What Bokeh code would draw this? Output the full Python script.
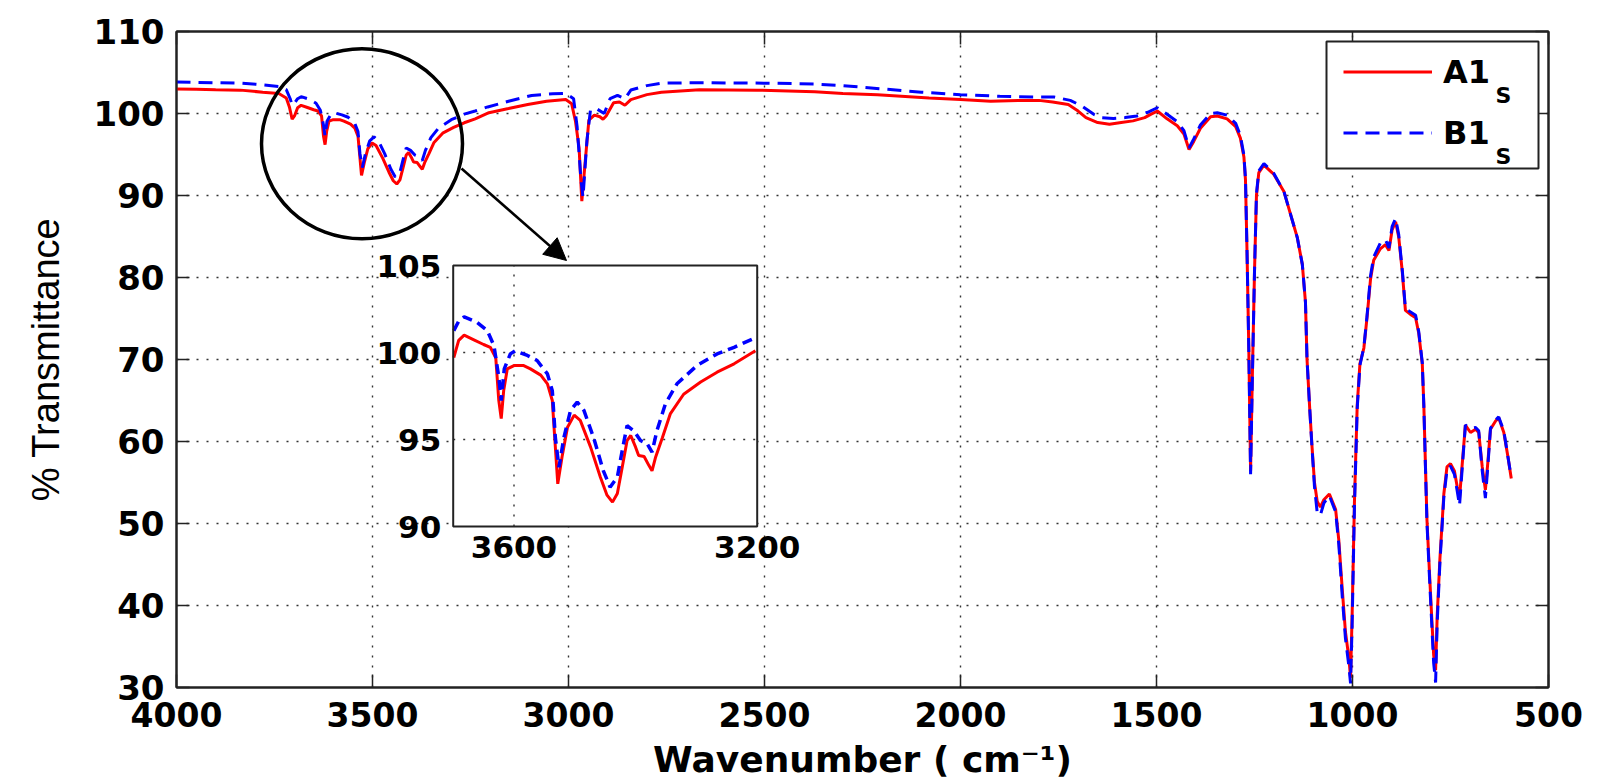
import numpy as np
from bokeh.plotting import figure
from bokeh.models import (Range1d, LinearAxis, FixedTicker, Legend, LegendItem,
                          Label, Arrow, NormalHead, BoxAnnotation)
from bokeh.core.properties import value
from bokeh.embed import file_html
from bokeh.resources import INLINE

# ---------------- data ----------------
wn_a = [4000, 3950, 3900, 3837, 3780, 3739, 3720, 3712, 3705, 3699, 3691, 3682, 3666, 3650,
        3639, 3630, 3625, 3621, 3617, 3611, 3600, 3584, 3573, 3556, 3545, 3537, 3533, 3528,
        3521, 3512, 3501, 3491, 3474, 3458, 3447, 3438, 3430, 3422, 3414, 3408, 3400, 3395,
        3386, 3378, 3373, 3367, 3356, 3343, 3321, 3293, 3266, 3238, 3203, 3153, 3104, 3056,
        3007, 2992, 2982, 2973, 2966, 2958, 2948, 2934, 2920, 2912, 2904, 2885, 2870, 2856,
        2841, 2800, 2763, 2666, 2519, 2372, 2300, 2212, 2080, 2000, 1923, 1850, 1800, 1765,
        1725, 1700, 1680, 1650, 1620, 1590, 1560, 1530, 1515, 1498, 1473, 1447, 1430, 1417,
        1405, 1388, 1362, 1345, 1320, 1298, 1286, 1277, 1273, 1269, 1264.5, 1260, 1256, 1250,
        1245, 1239, 1226, 1201, 1175, 1158, 1141, 1128, 1120, 1116, 1109, 1103, 1097, 1090,
        1082, 1073, 1059, 1043, 1035, 1026, 1018, 1009, 1005, 1001, 995, 988, 981, 971, 963,
        954, 946, 929, 916, 907, 899, 890, 882, 873, 865, 852, 839, 831, 822, 818, 814, 810,
        803, 797, 793, 788, 784, 777, 771, 767, 759, 750, 740, 733, 727, 720, 712, 699, 686,
        678, 669, 661, 655, 648, 635, 627, 614, 604, 595]
t_a = [103.0, 102.95, 102.9, 102.85, 102.6, 102.45, 101.9, 100.8, 99.3, 99.7, 100.7, 101.0, 100.73, 100.46,
       100.3, 99.7, 97.24, 96.2, 97.8, 99.06, 99.25, 99.25, 99.06, 98.7, 98.2, 97.24, 95.1, 92.45,
       94.0, 95.7, 96.4, 96.1, 94.56, 92.84, 91.8, 91.4, 91.9, 93.4, 94.94, 95.23, 94.56, 94.08,
       94.02, 93.5, 93.2, 94.0, 95.1, 96.47, 97.6, 98.3, 98.87, 99.35, 100.1, 100.6, 101.1, 101.5,
       101.7, 101.2, 99.0, 95.8, 89.3, 93.8, 99.2, 99.8, 99.6, 99.3, 99.7, 101.3, 101.4, 101.0,
       101.7, 102.3, 102.6, 102.9, 102.85, 102.65, 102.45, 102.3, 101.9, 101.7, 101.5, 101.6, 101.6, 101.4,
       101.1, 100.3, 99.5, 98.9, 98.7, 98.9, 99.1, 99.5, 99.9, 100.3, 99.35, 98.5, 97.5, 95.6,
       96.6, 98.2, 99.6, 99.7, 99.35, 98.4, 97.0, 94.7, 91.9, 83.0, 71.3, 56.4, 66.7, 80.7,
       90.0, 92.8, 93.7, 92.6, 90.5, 87.7, 84.9, 81.6, 77.0, 70.0, 63.9, 59.2, 55.0, 52.7,
       52.0, 52.9, 53.6, 51.7, 48.0, 41.9, 36.8, 33.5, 31.2, 38.7, 52.7, 64.4, 69.5, 71.4, 75.1,
       79.8, 82.1, 83.5, 84.0, 83.3, 85.8, 86.8, 84.9, 80.7, 76.0, 75.5, 75.1, 73.2, 69.5, 64.4, 57.3, 50.4,
       43.4, 37.7, 34.0, 32.1, 38.7, 45.7, 50.4, 53.6, 56.9, 57.3, 56.4, 54.5, 53.1, 57.3, 62.0, 61.1, 61.5,
       61.1, 56.9, 54.1, 57.3, 61.5, 62.5, 62.9, 61.1, 58.3, 55.5]

wn_b = [4000, 3950, 3900, 3837, 3780, 3739, 3720, 3710, 3705, 3699, 3691, 3682, 3661, 3644,
        3633, 3625, 3621, 3616, 3606, 3598, 3578, 3562, 3545, 3537, 3532, 3526, 3518, 3507,
        3496, 3485, 3469, 3453, 3442, 3430, 3422, 3414, 3403, 3392, 3381, 3373, 3365, 3351,
        3332, 3299, 3266, 3238, 3206, 3153, 3094, 3040, 3007, 2987, 2978, 2968, 2963, 2953,
        2944, 2929, 2909, 2894, 2875, 2856, 2841, 2800, 2763, 2666, 2500, 2372, 2300, 2200,
        2100, 2000, 1900, 1800, 1760, 1720, 1690, 1660, 1640, 1610, 1580, 1550, 1520, 1498,
        1473, 1447, 1430, 1417, 1405, 1388, 1362, 1345, 1320, 1298, 1286, 1277, 1273, 1269,
        1264.5, 1260, 1256, 1250, 1245, 1239, 1226, 1201, 1175, 1158, 1141, 1128, 1120, 1116,
        1109, 1103, 1097, 1090, 1082, 1073, 1059, 1043, 1035, 1026, 1018, 1009, 1005, 1001,
        995, 988, 981, 971, 963, 954, 946, 929, 916, 907, 899, 890, 882, 873, 865, 852, 839,
        831, 822, 818, 814, 810, 803, 797, 793, 788, 784, 777, 771, 767, 759, 750, 740, 733,
        727, 720, 712, 699, 686, 678, 669, 661, 655, 648, 635, 627, 614, 604, 595]
t_b = [103.85, 103.8, 103.75, 103.7, 103.5, 103.3, 102.9, 101.8, 101.0, 101.26, 101.8, 102.05, 101.74, 101.26,
       100.4, 98.58, 97.24, 99.06, 99.92, 100.1, 99.83, 99.54, 98.77, 97.8, 95.1, 93.4, 95.1, 96.67,
       97.15, 96.67, 95.1, 93.2, 92.26, 92.84, 94.37, 95.8, 95.5, 94.94, 94.75, 94.27, 95.5, 97.05,
       98.2, 99.25, 99.92, 100.3, 100.8, 101.5, 102.2, 102.4, 102.45, 101.8, 98.4, 91.8, 89.8, 96.7,
       100.4, 100.6, 100.0, 101.8, 102.2, 101.8, 102.86, 103.4, 103.7, 103.75, 103.7, 103.6, 103.4, 103.0,
       102.6, 102.3, 102.1, 102.0, 102.0, 101.6, 100.9, 99.9, 99.5, 99.4, 99.5, 99.7, 100.2, 100.7,
       99.9, 99.0, 97.9, 95.8, 96.9, 98.6, 100.0, 100.1, 99.8, 98.8, 97.3, 94.9, 92.0, 83.0,
       71.0, 56.0, 66.4, 80.7, 90.2, 93.0, 93.9, 92.7, 90.5, 87.7, 84.9, 81.6, 77.0, 70.0,
       63.9, 59.0, 54.5, 51.3, 51.0, 52.5, 53.4, 51.4, 47.5, 41.0, 36.0, 32.5, 30.5, 37.5,
       52.0, 64.0, 69.3, 71.5, 75.3, 80.2, 82.5, 84.2, 84.6, 83.6, 86.2, 87.2, 85.2, 80.9, 76.2, 75.8, 75.4,
       73.4, 69.6, 64.3, 57.0, 50.0, 42.8, 36.9, 33.0, 30.6, 37.8, 45.2, 50.0, 53.2, 56.5, 57.0, 56.0, 54.0,
       52.2, 56.8, 62.0, 61.6, 61.7, 61.3, 56.4, 53.1, 56.8, 61.6, 62.6, 63.0, 61.3, 58.3, 55.6]

x_ticks = [4000, 3500, 3000, 2500, 2000, 1500, 1000, 500]
y_ticks = [30, 40, 50, 60, 70, 80, 90, 100, 110]
x_lim = (4000, 500)
y_lim = (30, 110)

inset_x_lim = (3700, 3200)
inset_y_lim = (90, 105)
inset_x_ticks = [3600, 3200]
inset_y_ticks = [90, 95, 100, 105]

labels = ["A1", "B1"]
x_title = "Wavenumber ( cm\u207b\u00b9)"
y_title = "% Transmittance"

# ---------------- layout (pixels) ----------------
W, H = 1618, 782
FL, FR, FT, FB = 176, 1548, 31, 687          # main frame
IL, IR, IT, IB = 452.7, 756.7, 265, 526       # inset box


def px2x(px):
    return x_lim[0] + (px - FL) * (x_lim[1] - x_lim[0]) / (FR - FL)


def px2y(py):
    return y_lim[1] - (py - FT) * (y_lim[1] - y_lim[0]) / (FB - FT)


p = figure(width=W, height=H, x_range=Range1d(*x_lim), y_range=Range1d(*y_lim),
           output_backend="svg", toolbar_location=None, title=None,
           min_border_left=FL, min_border_right=W - FR,
           min_border_top=FT, min_border_bottom=H - FB)
p.background_fill_color = "white"
p.border_fill_color = "white"
p.outline_line_color = "#222222"
p.outline_line_width = 2

xa = p.below[0]
ya = p.left[0]

# inset ranges mapped onto the whole frame
ux = (inset_x_lim[1] - inset_x_lim[0]) / (IR - IL)
uy = (inset_y_lim[1] - inset_y_lim[0]) / (IB - IT)
p.extra_x_ranges = {"ix": Range1d(inset_x_lim[0] + (FL - IL) * ux, inset_x_lim[0] + (FR - IL) * ux)}
p.extra_y_ranges = {"iy": Range1d(inset_y_lim[0] - (FB - IB) * uy, inset_y_lim[1] + (IT - FT) * uy)}

# axes
xa.ticker = FixedTicker(ticks=x_ticks)
ya.ticker = FixedTicker(ticks=y_ticks)
top_ax = LinearAxis(ticker=FixedTicker(ticks=x_ticks),
                    major_label_overrides={t: "" for t in x_ticks})
right_ax = LinearAxis(ticker=FixedTicker(ticks=y_ticks),
                      major_label_overrides={t: "" for t in y_ticks})
p.add_layout(top_ax, "above")
p.add_layout(right_ax, "right")
for ax in [xa, ya, top_ax, right_ax]:
    ax.axis_line_color = "#222222"
    ax.axis_line_width = 2
    ax.major_tick_in = 13
    ax.major_tick_out = 0
    ax.major_tick_line_color = "#222222"
    ax.major_tick_line_width = 1.5
    ax.minor_tick_line_color = None
for ax in [top_ax, right_ax]:
    ax.major_label_text_font_size = "2px"
    ax.major_label_standoff = 0

xa.major_label_text_font = "DejaVu Sans"
xa.major_label_text_font_style = "bold"
xa.major_label_text_font_size = "33px"
xa.major_label_text_color = "black"
xa.major_label_standoff = 14
xa.axis_label = x_title
xa.axis_label_text_font = "DejaVu Sans"
xa.axis_label_text_font_style = "bold"
xa.axis_label_text_font_size = "36px"
xa.axis_label_text_color = "black"
xa.axis_label_standoff = 9

ya.major_label_text_font = "DejaVu Sans"
ya.major_label_text_font_style = "bold"
ya.major_label_text_font_size = "34px"
ya.major_label_text_color = "black"
ya.major_label_standoff = 12
ya.axis_label = y_title
ya.axis_label_text_font = "Liberation Sans"
ya.axis_label_text_font_style = "normal"
ya.axis_label_text_font_size = "38px"
ya.axis_label_text_color = "black"
ya.axis_label_standoff = 24

# grids
p.xgrid.ticker = FixedTicker(ticks=x_ticks)
p.ygrid.ticker = FixedTicker(ticks=y_ticks)
for g in [p.xgrid[0], p.ygrid[0]]:
    g.grid_line_color = "#333333"
    g.grid_line_dash = "2 8"
    g.grid_line_width = 1.4

# main lines
r_a = p.line(wn_a, t_a, line_color="#ff0000", line_width=3)
r_b = p.line(wn_b, t_b, line_color="#0000ff", line_width=3, line_dash="14 8")

# ---------------- inset ----------------
wa = np.array(wn_a); ta = np.array(t_a)
wb = np.array(wn_b); tb = np.array(t_b)
ma = (wa <= inset_x_lim[0]) & (wa >= inset_x_lim[1])
mb = (wb <= inset_x_lim[0]) & (wb >= inset_x_lim[1])

p.quad(left=[inset_x_lim[0]], right=[inset_x_lim[1]], bottom=[inset_y_lim[0]], top=[inset_y_lim[1]],
       x_range_name="ix", y_range_name="iy", fill_color="white", line_color=None)
gx = [t for t in inset_x_ticks if t != inset_x_lim[1]]
gy = [t for t in inset_y_ticks if inset_y_lim[0] < t < inset_y_lim[1]]
p.segment(x0=gx, y0=[inset_y_lim[0]] * len(gx), x1=gx, y1=[inset_y_lim[1]] * len(gx),
          x_range_name="ix", y_range_name="iy", line_color="#333333", line_dash="2 8", line_width=1.4)
p.segment(x0=[inset_x_lim[0]] * len(gy), y0=gy, x1=[inset_x_lim[1]] * len(gy), y1=gy,
          x_range_name="ix", y_range_name="iy", line_color="#333333", line_dash="2 8", line_width=1.4)
p.line(wa[ma], ta[ma], x_range_name="ix", y_range_name="iy", line_color="#ff0000", line_width=3)
p.line(wb[mb], tb[mb], x_range_name="ix", y_range_name="iy", line_color="#0000ff", line_width=3.5,
       line_dash="10 6")
p.quad(left=[inset_x_lim[0]], right=[inset_x_lim[1]], bottom=[inset_y_lim[0]], top=[inset_y_lim[1]],
       x_range_name="ix", y_range_name="iy", fill_color=None, line_color="#222222", line_width=2)
p.text(x=[inset_x_lim[0]] * len(inset_y_ticks), y=inset_y_ticks, text=[str(t) for t in inset_y_ticks],
       x_range_name="ix", y_range_name="iy", text_align="right", text_baseline="middle", x_offset=-12,
       text_font=value("DejaVu Sans"), text_font_style="bold", text_font_size="31px", text_color="black")
p.text(x=inset_x_ticks, y=[inset_y_lim[0]] * len(inset_x_ticks), text=[str(t) for t in inset_x_ticks],
       x_range_name="ix", y_range_name="iy", text_align="center", text_baseline="top", y_offset=9,
       text_font=value("DejaVu Sans"), text_font_style="bold", text_font_size="31px", text_color="black")

# circle + arrow
p.ellipse(x=[px2x(361.5)], y=[px2y(143.3)], width=201, height=190, width_units="screen",
          height_units="screen", fill_color=None, line_color="black", line_width=3.5)
p.add_layout(Arrow(end=NormalHead(size=22, fill_color="black", line_color="black"),
                   x_start=px2x(461), y_start=px2y(168), x_end=px2x(566), y_end=px2y(260),
                   line_color="black", line_width=2.5))

# legend: box first, then transparent legend, then subscripts
p.add_layout(BoxAnnotation(left=px2x(1326), right=px2x(1538), top=px2y(41), bottom=px2y(168),
                           fill_color="white", fill_alpha=1.0, line_color="#222222",
                           line_width=2, line_alpha=1.0))
legend = Legend(items=[LegendItem(label=labels[0], renderers=[r_a]),
                       LegendItem(label=labels[1], renderers=[r_b])],
                location=(1343 - FL, FB - 151.5), margin=0, padding=0, spacing=23,
                glyph_width=89, glyph_height=37, label_height=37, label_width=60,
                label_standoff=11, border_line_color=None,
                background_fill_alpha=0.0,
                label_text_font="DejaVu Sans", label_text_font_style="bold",
                label_text_font_size="32px", label_text_color="black")
p.add_layout(legend)
for yy in [95, 156]:
    p.add_layout(Label(x=px2x(1495), y=px2y(yy), text="S", text_font="DejaVu Sans",
                       text_font_style="bold", text_font_size="22px", text_color="black",
                       text_baseline="alphabetic"))

open("out.html", "w").write(file_html(p, INLINE))
